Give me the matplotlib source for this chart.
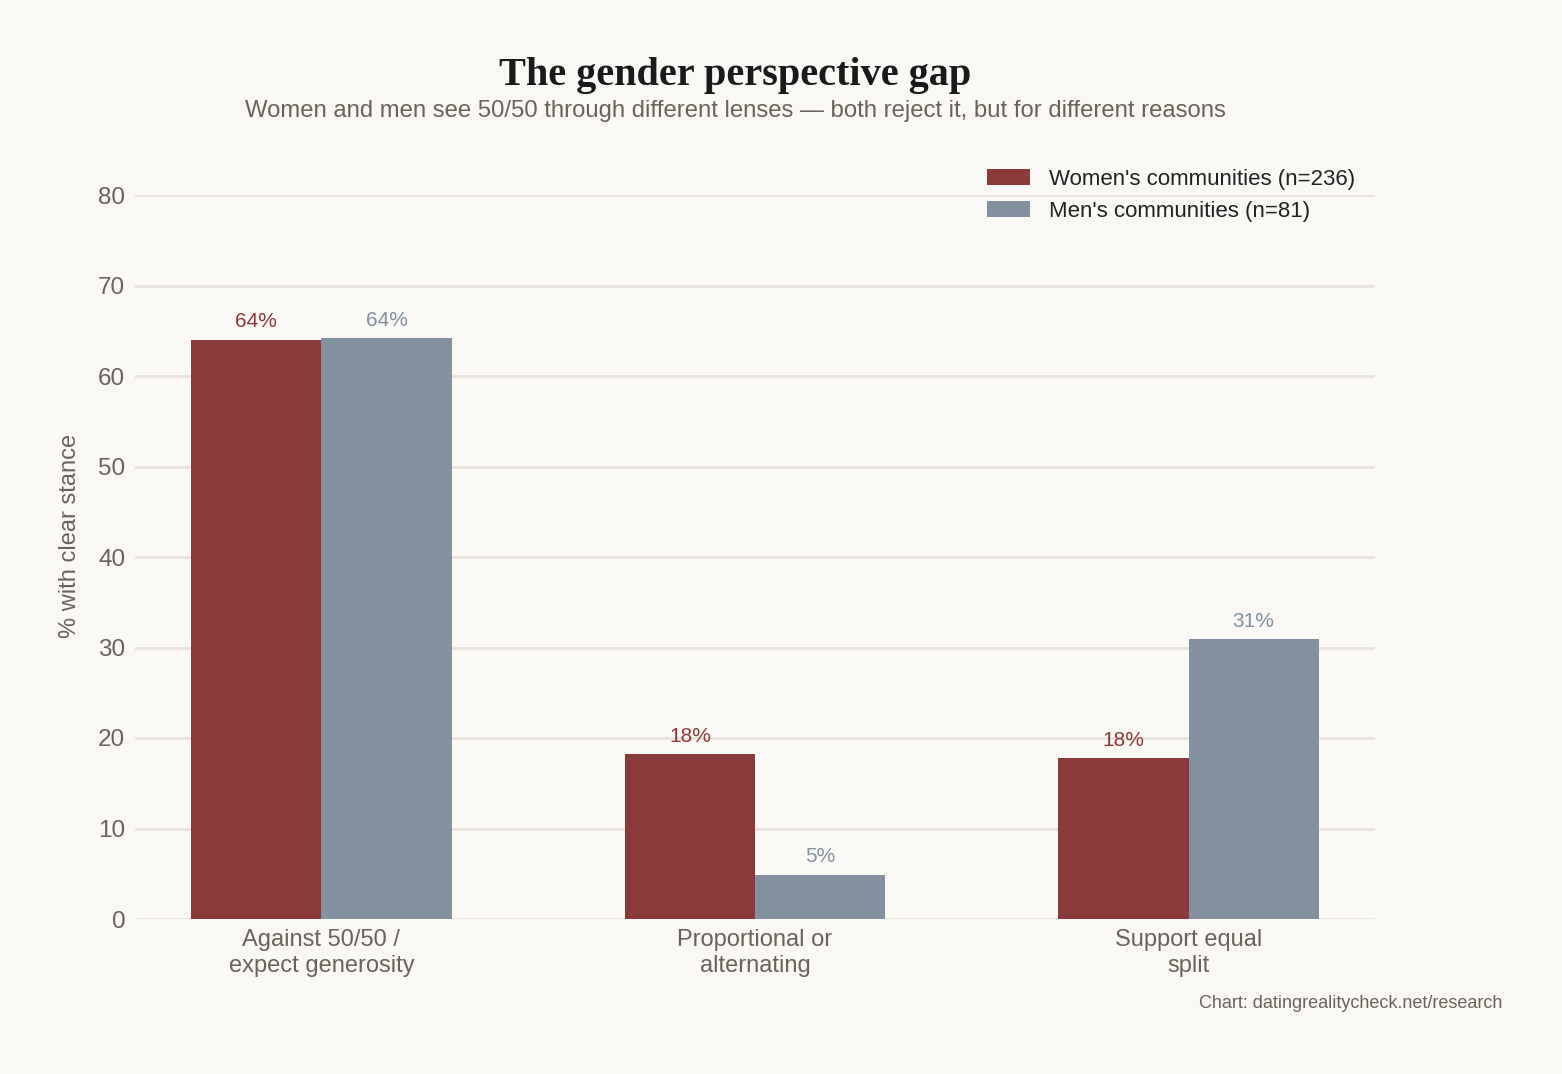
import numpy as np
import matplotlib.pyplot as plt

# Data
categories = ["Against 50/50 /\nexpect generosity", "Proportional or\nalternating", "Support equal\nsplit"]
women = [64.0, 18.2, 17.8]
men = [64.2, 4.9, 30.9]
women_labels = ["64%", "18%", "18%"]
men_labels = ["64%", "5%", "31%"]
yticks = [0, 10, 20, 30, 40, 50, 60, 70, 80]

bg = "#F9F8F5"
c_women = "#8B3A3A"
c_men = "#8390A0"
txt = "#6B6258"
grid = "#E6E1D9"

plt.rcParams['font.family'] = ['Liberation Sans', 'DejaVu Sans']

fig = plt.figure(figsize=(15.62, 10.74), dpi=100, facecolor=bg)
ax = fig.add_axes([135 / 1562, 1 - 919 / 1074, 1240 / 1562, 724 / 1074])
ax.set_facecolor(bg)

x = np.arange(len(categories))
w = 0.3
ax.bar(x - w / 2, women, w, color=c_women, label="Women's communities (n=236)", zorder=3)
ax.bar(x + w / 2, men, w, color=c_men, label="Men's communities (n=81)", zorder=3)

for xi, v, lab in zip(x, women, women_labels):
    ax.annotate(lab, (xi - w / 2, v), xytext=(0, 6), textcoords="offset points",
                ha="center", va="bottom", color=c_women, fontsize=15)
for xi, v, lab in zip(x, men, men_labels):
    ax.annotate(lab, (xi + w / 2, v), xytext=(0, 6), textcoords="offset points",
                ha="center", va="bottom", color=c_men, fontsize=15)

ax.set_xlim(-0.43, 2.43)
ax.set_ylim(0, 80)
ax.set_yticks(yticks)
ax.set_xticks(x)
ax.set_xticklabels(categories, fontsize=17, color=txt, linespacing=1.25)
ax.tick_params(axis='y', labelsize=17.5, colors=txt, length=0, pad=7)
ax.tick_params(axis='x', length=0, pad=7)
ax.yaxis.grid(True, color=grid, linewidth=1.8, zorder=0)
ax.set_axisbelow(True)
for s in ax.spines.values():
    s.set_visible(False)
ax.set_ylabel("% with clear stance", fontsize=17, color=txt, labelpad=10)
ax.yaxis.set_label_coords(-0.0435, 0.529)

leg = ax.legend(loc="upper right", bbox_to_anchor=(1.0, 1.064), frameon=False,
                fontsize=16, handlelength=1.95, handleheight=0.7, handletextpad=0.85,
                labelspacing=0.5)
for t in leg.get_texts():
    t.set_color("#222222")

fig.text(0.4706, 1 - 75 / 1074, "The gender perspective gap", ha="center", va="center",
         fontsize=29, fontweight="bold", family=["Liberation Serif", "DejaVu Serif"], color="#1a1a1a")
fig.text(0.4706, 1 - 111 / 1074,
         "Women and men see 50/50 through different lenses \u2014 both reject it, but for different reasons",
         ha="center", va="center", fontsize=17.2, color=txt)
fig.text(1502 / 1562, 1 - 1004 / 1074, "Chart: datingrealitycheck.net/research",
         ha="right", va="center", fontsize=13, color=txt)

fig.savefig("out.png", dpi=100, facecolor=bg)
